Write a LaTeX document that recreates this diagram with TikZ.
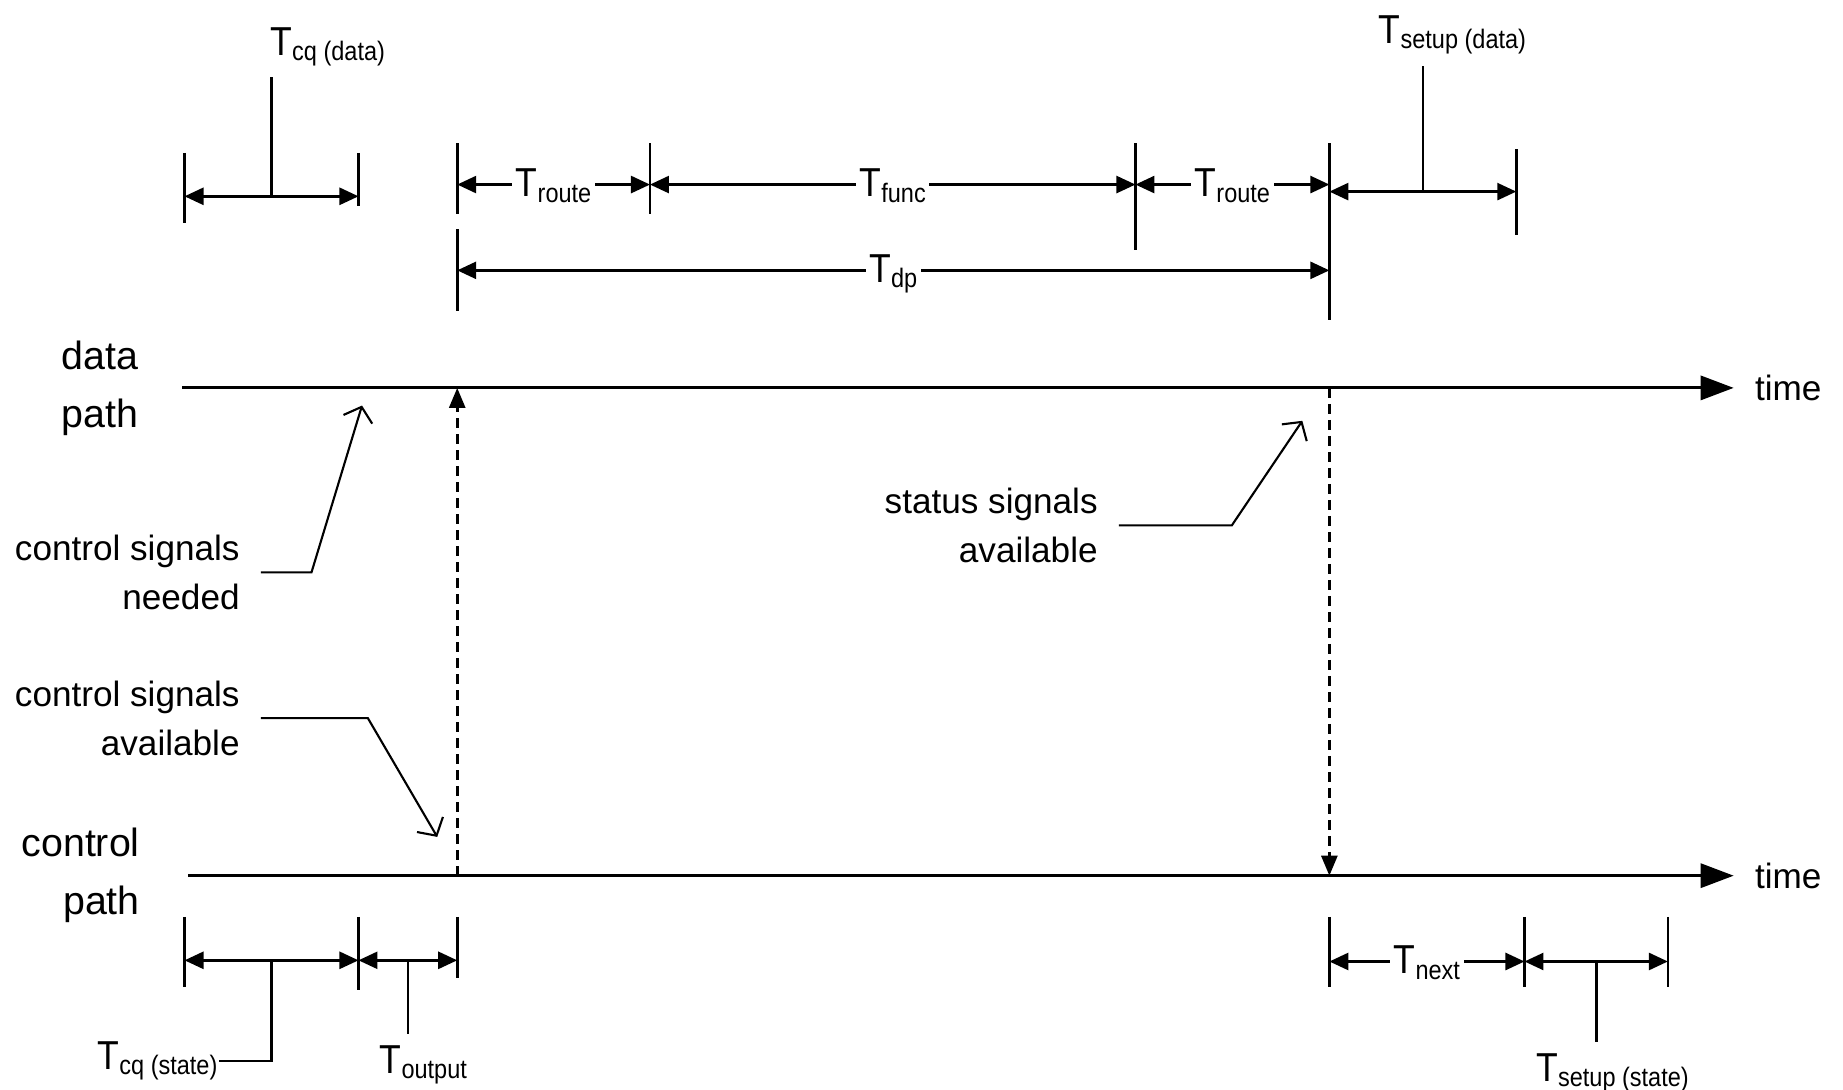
\documentclass[tikz,border=0pt]{standalone}
\usepackage{fontspec}
\setmainfont{Liberation Sans}
\newfontfamily\tfont[FakeStretch=0.88]{Liberation Sans}
\usepackage{tikz}
\usetikzlibrary{arrows.meta}
\newcommand{\tsub}[1]{{\tfont\fontsize{11.5}{12}\selectfont T\raisebox{-1.5pt}{\fontsize{7.6}{8}\selectfont #1}}}

\begin{document}
\begin{tikzpicture}[x=0.11754mm,y=-0.11754mm,line width=0.75pt,
  dim/.style={{Triangle[length=1.9mm,width=1.7mm]}-{Triangle[length=1.9mm,width=1.7mm]}},
  timeaxis/.style={-{Triangle[length=3.3mm,width=2.4mm]},line width=0.9pt},
  sig/.style={-{Triangle[length=2mm,width=1.6mm]},dash pattern=on 1mm off 0.6mm},
  lead/.style={-{Straight Barb[length=1.3mm,width=3mm]},line width=0.6pt},
  onl/.style={fill=white,inner xsep=1pt,inner ysep=0pt,anchor=base,yshift=-3.5pt},
  offl/.style={inner xsep=0pt,inner ysep=1mm,anchor=base west},
  note/.style={font=\fontsize{10}{14}\selectfont,align=right,anchor=east,inner xsep=2mm},
  timetxt/.style={font=\fontsize{10}{12}\selectfont,anchor=west,inner xsep=2mm},
  pathname/.style={font=\fontsize{11.2}{16.5}\selectfont,inner sep=0pt}]
\useasboundingbox (0,0) rectangle (1568,927);

\path (157,167) coordinate (q0) (305,167) coordinate (q1)
  (389,157) coordinate (r0) (553,157) coordinate (r1) (966,157) coordinate (r2) (1131,157) coordinate (r3)
  (1131,163) coordinate (s0) (1290,163) coordinate (s1)
  (389,230) coordinate (p0) (1131,230) coordinate (p1)
  (155,330) coordinate (d0) (389,330) coordinate (dc) (1131,330) coordinate (df) (1475,330) coordinate (d1)
  (160,745) coordinate (k0) (389,745) coordinate (kc) (1131,745) coordinate (kf) (1475,745) coordinate (k1)
  (157,817) coordinate (u0) (305,817) coordinate (u1) (389,817) coordinate (u2)
  (1131,818) coordinate (v0) (1297,818) coordinate (v1) (1419,818) coordinate (v2)
  (308,345) coordinate (needtip) (372,712) coordinate (availtip) (1108,358) coordinate (statustip);

% ticks
\draw (157,130) -- (157,190) (305,130) -- (305,175)
  (389,122) -- (389,182) (553,122) -- (553,182) (966,122) -- (966,213)
  (1131,122) -- (1131,272) (1290,127) -- (1290,200) (389,195) -- (389,265)
  (157,780) -- (157,840) (305,780) -- (305,842) (389,780) -- (389,832)
  (1131,780) -- (1131,840) (1297,780) -- (1297,840) (1419,780) -- (1419,840);

% time axes
\draw[timeaxis] (d0) -- (d1);
\draw[timeaxis] (k0) -- (k1);
\node[timetxt] (timed) at (d1) {time};
\node[timetxt] (timek) at (k1) {time};
\node[pathname,align=center] (dpath) at (85,330) {data\\path};
\node[pathname,align=right,anchor=east] (cpath) at (120,745) {control\\path};

\draw[sig] (kc) -- (dc);
\draw[sig] (df) -- (kf);

% intervals
\draw[dim] (q0) -- coordinate[midway] (qm) (q1);
\draw[dim] (r0) -- node[onl] (route1) {\tsub{route}} (r1);
\draw[dim] (r1) -- node[onl] (func) {\tsub{func}} (r2);
\draw[dim] (r2) -- node[onl] (route2) {\tsub{route}} (r3);
\draw[dim] (s0) -- coordinate[midway] (sm) (s1);
\draw[dim] (p0) -- node[onl] (dp) {\tsub{dp}} (p1);
\draw[dim] (u0) -- coordinate[midway] (um) (u1);
\draw[dim] (u1) -- coordinate[midway] (om) (u2);
\draw[dim] (v0) -- node[onl] (next) {\tsub{next}} (v1);
\draw[dim] (v1) -- coordinate[midway] (wm) (v2);

\node[offl] (cqdata) at (229,47) {\tsub{cq (data)}};
\node[offl] (setupdata) at (1172,37) {\tsub{setup (data)}};
\node[offl] (cqstate) at (82,910) {\tsub{cq (state)}};
\node[offl] (output) at (322,913) {\tsub{output}};
\node[offl] (setupstate) at (1306,920) {\tsub{setup (state)}};
\draw (qm) -- (qm |- cqdata.south);
\draw (sm) -- (sm |- setupdata.south);
\draw (um) |- (cqstate.east);
\draw (om) -- (om |- output.north);
\draw (wm) -- (wm |- setupstate.north);

% signal notes
\node[note] (need) at (222,487) {control signals\\needed};
\node[note] (avail) at (222,611) {control signals\\available};
\node[note] (status) at (952,447) {status signals\\available};
\draw[lead] (need.east) -- ++(43,0) -- (needtip);
\draw[lead] (avail.east) -- ++(91,0) -- (availtip);
\draw[lead] (status.east) -- ++(96,0) -- (statustip);
\end{tikzpicture}
\end{document}
